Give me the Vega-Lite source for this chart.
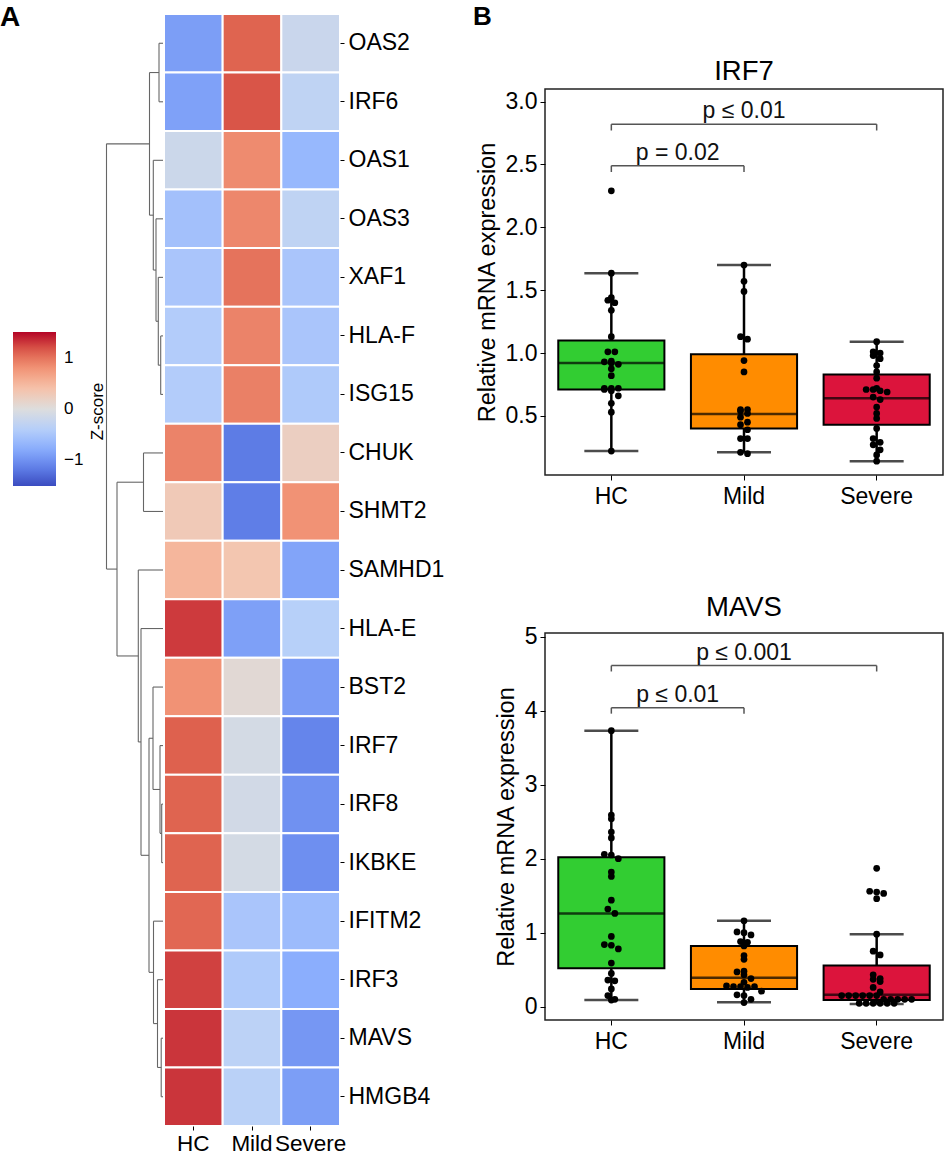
{
  "$schema": "https://vega.github.io/schema/vega-lite/v6.json",
  "padding": {"left": 0, "top": 3, "right": 0, "bottom": 0},
  "background": "white",
  "config": {
    "font": "Liberation Sans",
    "view": {"stroke": null},
    "axis": {"labelColor": "#000", "titleColor": "#000", "tickColor": "#000", "labelFont": "Liberation Sans", "titleFont": "Liberation Sans", "titleFontWeight": "normal", "grid": false, "domain": false},
    "title": {"color": "#000", "font": "Liberation Sans"},
    "legend": {"labelFont": "Liberation Sans", "titleFont": "Liberation Sans", "labelColor": "#000", "titleColor": "#000"}
  },
  "datasets": {
    "heat": [
      {"gene": "OAS2", "group": "HC", "z": -0.9}, {"gene": "OAS2", "group": "Mild", "z": 1.1}, {"gene": "OAS2", "group": "Severe", "z": -0.2},
      {"gene": "IRF6", "group": "HC", "z": -0.87}, {"gene": "IRF6", "group": "Mild", "z": 1.17}, {"gene": "IRF6", "group": "Severe", "z": -0.3},
      {"gene": "OAS1", "group": "HC", "z": -0.18}, {"gene": "OAS1", "group": "Mild", "z": 0.85}, {"gene": "OAS1", "group": "Severe", "z": -0.66},
      {"gene": "OAS3", "group": "HC", "z": -0.56}, {"gene": "OAS3", "group": "Mild", "z": 0.87}, {"gene": "OAS3", "group": "Severe", "z": -0.3},
      {"gene": "XAF1", "group": "HC", "z": -0.5}, {"gene": "XAF1", "group": "Mild", "z": 1.0}, {"gene": "XAF1", "group": "Severe", "z": -0.5},
      {"gene": "HLA-F", "group": "HC", "z": -0.42}, {"gene": "HLA-F", "group": "Mild", "z": 0.9}, {"gene": "HLA-F", "group": "Severe", "z": -0.5},
      {"gene": "ISG15", "group": "HC", "z": -0.42}, {"gene": "ISG15", "group": "Mild", "z": 0.92}, {"gene": "ISG15", "group": "Severe", "z": -0.45},
      {"gene": "CHUK", "group": "HC", "z": 0.9}, {"gene": "CHUK", "group": "Mild", "z": -1.17}, {"gene": "CHUK", "group": "Severe", "z": 0.22},
      {"gene": "SHMT2", "group": "HC", "z": 0.3}, {"gene": "SHMT2", "group": "Mild", "z": -1.15}, {"gene": "SHMT2", "group": "Severe", "z": 0.8},
      {"gene": "SAMHD1", "group": "HC", "z": 0.5}, {"gene": "SAMHD1", "group": "Mild", "z": 0.35}, {"gene": "SAMHD1", "group": "Severe", "z": -0.85},
      {"gene": "HLA-E", "group": "HC", "z": 1.28}, {"gene": "HLA-E", "group": "Mild", "z": -0.88}, {"gene": "HLA-E", "group": "Severe", "z": -0.38},
      {"gene": "BST2", "group": "HC", "z": 0.8}, {"gene": "BST2", "group": "Mild", "z": 0.07}, {"gene": "BST2", "group": "Severe", "z": -0.92},
      {"gene": "IRF7", "group": "HC", "z": 1.12}, {"gene": "IRF7", "group": "Mild", "z": -0.1}, {"gene": "IRF7", "group": "Severe", "z": -1.1},
      {"gene": "IRF8", "group": "HC", "z": 1.1}, {"gene": "IRF8", "group": "Mild", "z": -0.12}, {"gene": "IRF8", "group": "Severe", "z": -1.0},
      {"gene": "IKBKE", "group": "HC", "z": 1.1}, {"gene": "IKBKE", "group": "Mild", "z": -0.1}, {"gene": "IKBKE", "group": "Severe", "z": -1.02},
      {"gene": "IFITM2", "group": "HC", "z": 1.08}, {"gene": "IFITM2", "group": "Mild", "z": -0.5}, {"gene": "IFITM2", "group": "Severe", "z": -0.62},
      {"gene": "IRF3", "group": "HC", "z": 1.25}, {"gene": "IRF3", "group": "Mild", "z": -0.45}, {"gene": "IRF3", "group": "Severe", "z": -0.77},
      {"gene": "MAVS", "group": "HC", "z": 1.3}, {"gene": "MAVS", "group": "Mild", "z": -0.33}, {"gene": "MAVS", "group": "Severe", "z": -0.95},
      {"gene": "HMGB4", "group": "HC", "z": 1.3}, {"gene": "HMGB4", "group": "Mild", "z": -0.35}, {"gene": "HMGB4", "group": "Severe", "z": -0.9}
    ],
    "dendro": [
      {"d1": 0, "d2": 5, "p1": 0.5, "p2": 0.5}, {"d1": 5, "d2": 5, "p1": 0.5, "p2": 1.5}, {"d1": 0, "d2": 5, "p1": 1.5, "p2": 1.5},
      {"d1": 0, "d2": 3.3, "p1": 5.5, "p2": 5.5}, {"d1": 3.3, "d2": 3.3, "p1": 5.5, "p2": 6.5}, {"d1": 0, "d2": 3.3, "p1": 6.5, "p2": 6.5},
      {"d1": 0, "d2": 5.7, "p1": 4.5, "p2": 4.5}, {"d1": 5.7, "d2": 5.7, "p1": 4.5, "p2": 6.0}, {"d1": 3.3, "d2": 5.7, "p1": 6.0, "p2": 6.0},
      {"d1": 0, "d2": 8, "p1": 3.5, "p2": 3.5}, {"d1": 8, "d2": 8, "p1": 3.5, "p2": 5.25}, {"d1": 5.7, "d2": 8, "p1": 5.25, "p2": 5.25},
      {"d1": 0, "d2": 10.7, "p1": 2.5, "p2": 2.5}, {"d1": 10.7, "d2": 10.7, "p1": 2.5, "p2": 4.375}, {"d1": 8, "d2": 10.7, "p1": 4.375, "p2": 4.375},
      {"d1": 5, "d2": 14.5, "p1": 1.0, "p2": 1.0}, {"d1": 14.5, "d2": 14.5, "p1": 1.0, "p2": 3.4375}, {"d1": 10.7, "d2": 14.5, "p1": 3.4375, "p2": 3.4375},
      {"d1": 0, "d2": 20.5, "p1": 7.5, "p2": 7.5}, {"d1": 20.5, "d2": 20.5, "p1": 7.5, "p2": 8.5}, {"d1": 0, "d2": 20.5, "p1": 8.5, "p2": 8.5},
      {"d1": 0, "d2": 2.3, "p1": 13.5, "p2": 13.5}, {"d1": 2.3, "d2": 2.3, "p1": 13.5, "p2": 14.5}, {"d1": 0, "d2": 2.3, "p1": 14.5, "p2": 14.5},
      {"d1": 0, "d2": 4, "p1": 12.5, "p2": 12.5}, {"d1": 4, "d2": 4, "p1": 12.5, "p2": 14.0}, {"d1": 2.3, "d2": 4, "p1": 14.0, "p2": 14.0},
      {"d1": 0, "d2": 11, "p1": 11.5, "p2": 11.5}, {"d1": 11, "d2": 11, "p1": 11.5, "p2": 13.25}, {"d1": 4, "d2": 11, "p1": 13.25, "p2": 13.25},
      {"d1": 0, "d2": 2.8, "p1": 17.5, "p2": 17.5}, {"d1": 2.8, "d2": 2.8, "p1": 17.5, "p2": 18.5}, {"d1": 0, "d2": 2.8, "p1": 18.5, "p2": 18.5},
      {"d1": 0, "d2": 6.5, "p1": 16.5, "p2": 16.5}, {"d1": 6.5, "d2": 6.5, "p1": 16.5, "p2": 18.0}, {"d1": 2.8, "d2": 6.5, "p1": 18.0, "p2": 18.0},
      {"d1": 0, "d2": 10.5, "p1": 15.5, "p2": 15.5}, {"d1": 10.5, "d2": 10.5, "p1": 15.5, "p2": 17.25}, {"d1": 6.5, "d2": 10.5, "p1": 17.25, "p2": 17.25},
      {"d1": 11, "d2": 15, "p1": 12.375, "p2": 12.375}, {"d1": 15, "d2": 15, "p1": 12.375, "p2": 16.375}, {"d1": 10.5, "d2": 15, "p1": 16.375, "p2": 16.375},
      {"d1": 0, "d2": 23, "p1": 10.5, "p2": 10.5}, {"d1": 23, "d2": 23, "p1": 10.5, "p2": 14.375}, {"d1": 15, "d2": 23, "p1": 14.375, "p2": 14.375},
      {"d1": 0, "d2": 25.7, "p1": 9.5, "p2": 9.5}, {"d1": 25.7, "d2": 25.7, "p1": 9.5, "p2": 12.4375}, {"d1": 23, "d2": 25.7, "p1": 12.4375, "p2": 12.4375},
      {"d1": 20.5, "d2": 47, "p1": 8.0, "p2": 8.0}, {"d1": 47, "d2": 47, "p1": 8.0, "p2": 10.96875}, {"d1": 25.7, "d2": 47, "p1": 10.96875, "p2": 10.96875},
      {"d1": 14.5, "d2": 57.5, "p1": 2.21875, "p2": 2.21875}, {"d1": 57.5, "d2": 57.5, "p1": 2.21875, "p2": 9.484375}, {"d1": 47, "d2": 57.5, "p1": 9.484375, "p2": 9.484375}
    ],
    "box": [
      {"gene": "IRF7", "group": "HC", "lo": 0.22, "q1": 0.71, "med": 0.92, "q3": 1.10, "hi": 1.635},
      {"gene": "IRF7", "group": "Mild", "lo": 0.21, "q1": 0.40, "med": 0.515, "q3": 0.99, "hi": 1.70},
      {"gene": "IRF7", "group": "Severe", "lo": 0.14, "q1": 0.43, "med": 0.64, "q3": 0.83, "hi": 1.09},
      {"gene": "MAVS", "group": "HC", "lo": 0.09, "q1": 0.52, "med": 1.26, "q3": 2.02, "hi": 3.73},
      {"gene": "MAVS", "group": "Mild", "lo": 0.06, "q1": 0.24, "med": 0.39, "q3": 0.82, "hi": 1.16},
      {"gene": "MAVS", "group": "Severe", "lo": 0.035, "q1": 0.09, "med": 0.16, "q3": 0.555, "hi": 0.98}
    ],
    "points": [
      {"gene": "IRF7", "group": "HC", "value": 2.29}, {"gene": "IRF7", "group": "HC", "value": 1.635}, {"gene": "IRF7", "group": "HC", "value": 1.44}, {"gene": "IRF7", "group": "HC", "value": 1.42}, {"gene": "IRF7", "group": "HC", "value": 1.40}, {"gene": "IRF7", "group": "HC", "value": 1.34}, {"gene": "IRF7", "group": "HC", "value": 1.13}, {"gene": "IRF7", "group": "HC", "value": 1.01}, {"gene": "IRF7", "group": "HC", "value": 1.01}, {"gene": "IRF7", "group": "HC", "value": 0.935}, {"gene": "IRF7", "group": "HC", "value": 0.93}, {"gene": "IRF7", "group": "HC", "value": 0.92}, {"gene": "IRF7", "group": "HC", "value": 0.91}, {"gene": "IRF7", "group": "HC", "value": 0.875}, {"gene": "IRF7", "group": "HC", "value": 0.82}, {"gene": "IRF7", "group": "HC", "value": 0.72}, {"gene": "IRF7", "group": "HC", "value": 0.72}, {"gene": "IRF7", "group": "HC", "value": 0.72}, {"gene": "IRF7", "group": "HC", "value": 0.71}, {"gene": "IRF7", "group": "HC", "value": 0.70}, {"gene": "IRF7", "group": "HC", "value": 0.66}, {"gene": "IRF7", "group": "HC", "value": 0.60}, {"gene": "IRF7", "group": "HC", "value": 0.53}, {"gene": "IRF7", "group": "HC", "value": 0.22},
      {"gene": "IRF7", "group": "Mild", "value": 1.70}, {"gene": "IRF7", "group": "Mild", "value": 1.57}, {"gene": "IRF7", "group": "Mild", "value": 1.49}, {"gene": "IRF7", "group": "Mild", "value": 1.13}, {"gene": "IRF7", "group": "Mild", "value": 1.11}, {"gene": "IRF7", "group": "Mild", "value": 0.94}, {"gene": "IRF7", "group": "Mild", "value": 0.85}, {"gene": "IRF7", "group": "Mild", "value": 0.55}, {"gene": "IRF7", "group": "Mild", "value": 0.55}, {"gene": "IRF7", "group": "Mild", "value": 0.54}, {"gene": "IRF7", "group": "Mild", "value": 0.52}, {"gene": "IRF7", "group": "Mild", "value": 0.49}, {"gene": "IRF7", "group": "Mild", "value": 0.45}, {"gene": "IRF7", "group": "Mild", "value": 0.43}, {"gene": "IRF7", "group": "Mild", "value": 0.39}, {"gene": "IRF7", "group": "Mild", "value": 0.32}, {"gene": "IRF7", "group": "Mild", "value": 0.32}, {"gene": "IRF7", "group": "Mild", "value": 0.21}, {"gene": "IRF7", "group": "Mild", "value": 0.20},
      {"gene": "IRF7", "group": "Severe", "value": 1.09}, {"gene": "IRF7", "group": "Severe", "value": 1.01}, {"gene": "IRF7", "group": "Severe", "value": 1.00}, {"gene": "IRF7", "group": "Severe", "value": 0.98}, {"gene": "IRF7", "group": "Severe", "value": 0.955}, {"gene": "IRF7", "group": "Severe", "value": 0.90}, {"gene": "IRF7", "group": "Severe", "value": 0.85}, {"gene": "IRF7", "group": "Severe", "value": 0.80}, {"gene": "IRF7", "group": "Severe", "value": 0.72}, {"gene": "IRF7", "group": "Severe", "value": 0.71}, {"gene": "IRF7", "group": "Severe", "value": 0.71}, {"gene": "IRF7", "group": "Severe", "value": 0.70}, {"gene": "IRF7", "group": "Severe", "value": 0.69}, {"gene": "IRF7", "group": "Severe", "value": 0.65}, {"gene": "IRF7", "group": "Severe", "value": 0.63}, {"gene": "IRF7", "group": "Severe", "value": 0.57}, {"gene": "IRF7", "group": "Severe", "value": 0.52}, {"gene": "IRF7", "group": "Severe", "value": 0.48}, {"gene": "IRF7", "group": "Severe", "value": 0.40}, {"gene": "IRF7", "group": "Severe", "value": 0.32}, {"gene": "IRF7", "group": "Severe", "value": 0.29}, {"gene": "IRF7", "group": "Severe", "value": 0.27}, {"gene": "IRF7", "group": "Severe", "value": 0.23}, {"gene": "IRF7", "group": "Severe", "value": 0.19}, {"gene": "IRF7", "group": "Severe", "value": 0.14},
      {"gene": "MAVS", "group": "HC", "value": 3.73}, {"gene": "MAVS", "group": "HC", "value": 2.59}, {"gene": "MAVS", "group": "HC", "value": 2.54}, {"gene": "MAVS", "group": "HC", "value": 2.36}, {"gene": "MAVS", "group": "HC", "value": 2.28}, {"gene": "MAVS", "group": "HC", "value": 2.06}, {"gene": "MAVS", "group": "HC", "value": 2.05}, {"gene": "MAVS", "group": "HC", "value": 2.00}, {"gene": "MAVS", "group": "HC", "value": 1.82}, {"gene": "MAVS", "group": "HC", "value": 1.76}, {"gene": "MAVS", "group": "HC", "value": 1.44}, {"gene": "MAVS", "group": "HC", "value": 1.32}, {"gene": "MAVS", "group": "HC", "value": 1.26}, {"gene": "MAVS", "group": "HC", "value": 0.95}, {"gene": "MAVS", "group": "HC", "value": 0.84}, {"gene": "MAVS", "group": "HC", "value": 0.83}, {"gene": "MAVS", "group": "HC", "value": 0.78}, {"gene": "MAVS", "group": "HC", "value": 0.59}, {"gene": "MAVS", "group": "HC", "value": 0.45}, {"gene": "MAVS", "group": "HC", "value": 0.36}, {"gene": "MAVS", "group": "HC", "value": 0.35}, {"gene": "MAVS", "group": "HC", "value": 0.24}, {"gene": "MAVS", "group": "HC", "value": 0.15}, {"gene": "MAVS", "group": "HC", "value": 0.10}, {"gene": "MAVS", "group": "HC", "value": 0.09},
      {"gene": "MAVS", "group": "Mild", "value": 1.16}, {"gene": "MAVS", "group": "Mild", "value": 1.01}, {"gene": "MAVS", "group": "Mild", "value": 1.00}, {"gene": "MAVS", "group": "Mild", "value": 0.97}, {"gene": "MAVS", "group": "Mild", "value": 0.88}, {"gene": "MAVS", "group": "Mild", "value": 0.87}, {"gene": "MAVS", "group": "Mild", "value": 0.82}, {"gene": "MAVS", "group": "Mild", "value": 0.69}, {"gene": "MAVS", "group": "Mild", "value": 0.64}, {"gene": "MAVS", "group": "Mild", "value": 0.48}, {"gene": "MAVS", "group": "Mild", "value": 0.47}, {"gene": "MAVS", "group": "Mild", "value": 0.43}, {"gene": "MAVS", "group": "Mild", "value": 0.38}, {"gene": "MAVS", "group": "Mild", "value": 0.33}, {"gene": "MAVS", "group": "Mild", "value": 0.28}, {"gene": "MAVS", "group": "Mild", "value": 0.27}, {"gene": "MAVS", "group": "Mild", "value": 0.27}, {"gene": "MAVS", "group": "Mild", "value": 0.26}, {"gene": "MAVS", "group": "Mild", "value": 0.27}, {"gene": "MAVS", "group": "Mild", "value": 0.21}, {"gene": "MAVS", "group": "Mild", "value": 0.16}, {"gene": "MAVS", "group": "Mild", "value": 0.15}, {"gene": "MAVS", "group": "Mild", "value": 0.10}, {"gene": "MAVS", "group": "Mild", "value": 0.055},
      {"gene": "MAVS", "group": "Severe", "value": 1.87}, {"gene": "MAVS", "group": "Severe", "value": 1.56}, {"gene": "MAVS", "group": "Severe", "value": 1.55}, {"gene": "MAVS", "group": "Severe", "value": 1.53}, {"gene": "MAVS", "group": "Severe", "value": 1.46}, {"gene": "MAVS", "group": "Severe", "value": 0.98}, {"gene": "MAVS", "group": "Severe", "value": 0.75}, {"gene": "MAVS", "group": "Severe", "value": 0.70}, {"gene": "MAVS", "group": "Severe", "value": 0.43}, {"gene": "MAVS", "group": "Severe", "value": 0.38}, {"gene": "MAVS", "group": "Severe", "value": 0.37}, {"gene": "MAVS", "group": "Severe", "value": 0.34}, {"gene": "MAVS", "group": "Severe", "value": 0.26}, {"gene": "MAVS", "group": "Severe", "value": 0.20}, {"gene": "MAVS", "group": "Severe", "value": 0.15}, {"gene": "MAVS", "group": "Severe", "value": 0.15}, {"gene": "MAVS", "group": "Severe", "value": 0.15}, {"gene": "MAVS", "group": "Severe", "value": 0.15}, {"gene": "MAVS", "group": "Severe", "value": 0.15}, {"gene": "MAVS", "group": "Severe", "value": 0.15}, {"gene": "MAVS", "group": "Severe", "value": 0.10}, {"gene": "MAVS", "group": "Severe", "value": 0.10}, {"gene": "MAVS", "group": "Severe", "value": 0.10}, {"gene": "MAVS", "group": "Severe", "value": 0.10}, {"gene": "MAVS", "group": "Severe", "value": 0.10}, {"gene": "MAVS", "group": "Severe", "value": 0.045}, {"gene": "MAVS", "group": "Severe", "value": 0.045}, {"gene": "MAVS", "group": "Severe", "value": 0.045}, {"gene": "MAVS", "group": "Severe", "value": 0.045}, {"gene": "MAVS", "group": "Severe", "value": 0.045}, {"gene": "MAVS", "group": "Severe", "value": 0.045}
    ],
    "sig": [
      {"gene": "IRF7", "from": "HC", "to": "Mild", "at": "Mild", "span": "short", "y": 2.49, "tip": 2.44, "label": "p = 0.02"},
      {"gene": "IRF7", "from": "HC", "to": "Severe", "at": "Mild", "span": "long", "y": 2.82, "tip": 2.77, "label": "p ≤ 0.01"},
      {"gene": "MAVS", "from": "HC", "to": "Mild", "at": "Mild", "span": "short", "y": 4.04, "tip": 3.96, "label": "p ≤ 0.01"},
      {"gene": "MAVS", "from": "HC", "to": "Severe", "at": "Mild", "span": "long", "y": 4.61, "tip": 4.53, "label": "p ≤ 0.001"}
    ]
  },
  "resolve": {"scale": {"x": "independent", "y": "independent", "color": "independent"}, "legend": {"color": "independent"}},
  "spacing": 29,
  "hconcat": [
    {
      "title": {"text": "A", "anchor": "start", "fontSize": 28, "fontWeight": "bold", "offset": -19, "dx": -13},
      "bounds": "flush",
      "spacing": 0,
      "resolve": {"scale": {"x": "independent", "y": "independent", "color": "independent"}},
      "hconcat": [
        {
          "width": 58, "height": 1112,
          "data": {"name": "dendro"},
          "mark": {"type": "rule", "color": "#666", "strokeWidth": 1.1},
          "encoding": {
            "x": {"field": "d1", "type": "quantitative", "scale": {"domain": [0, 58], "reverse": true, "nice": false, "zero": false}, "axis": null},
            "x2": {"field": "d2"},
            "y": {"field": "p1", "type": "quantitative", "scale": {"domain": [0, 19], "reverse": true, "nice": false, "zero": false},
                  "axis": {"orient": "left", "title": "Z-score", "labels": false, "ticks": false, "domain": false, "grid": false,
                           "titleX": -9, "titleY": 397, "titleAngle": 270, "titleAlign": "center", "titleBaseline": "middle", "titleFontSize": 17}},
            "y2": {"field": "p2"}
          }
        },
        {
          "width": 176, "height": 1112,
          "data": {"name": "heat"},
          "mark": {"type": "rect", "stroke": "white", "strokeWidth": 2},
          "encoding": {
            "x": {"field": "group", "type": "nominal", "sort": ["HC", "Mild", "Severe"], "scale": {"paddingInner": 0, "paddingOuter": 0},
                  "axis": {"title": null, "labelAngle": 0, "labelFontSize": 22.5, "tickSize": 4, "labelPadding": 2, "orient": "bottom"}},
            "y": {"field": "gene", "type": "nominal",
                  "sort": ["OAS2", "IRF6", "OAS1", "OAS3", "XAF1", "HLA-F", "ISG15", "CHUK", "SHMT2", "SAMHD1", "HLA-E", "BST2", "IRF7", "IRF8", "IKBKE", "IFITM2", "IRF3", "MAVS", "HMGB4"],
                  "scale": {"paddingInner": 0, "paddingOuter": 0},
                  "axis": {"title": null, "orient": "right", "labelFontSize": 23, "tickSize": 4, "labelPadding": 4}},
            "color": {"field": "z", "type": "quantitative",
                      "scale": {"domain": [-1.5, 1.5], "interpolate": "rgb", "range": ["#3b4cc0", "#6282ea", "#8db0fe", "#b8d0f9", "#dddddd", "#f5c4ad", "#f49a7b", "#de604d", "#b40426"]},
                      "legend": {"title": null, "orient": "none", "legendX": -151, "legendY": 318, "direction": "vertical",
                                 "gradientLength": 154, "gradientThickness": 43, "gradientStrokeWidth": 0,
                                 "values": [-1, 0, 1], "labelFontSize": 17, "labelOffset": 8,
                                 "labelExpr": "datum.value < 0 ? '−' + abs(datum.value) : datum.label"}}
          }
        }
      ]
    },
    {
      "bounds": "flush",
      "spacing": 74,
      "resolve": {"scale": {"x": "independent", "y": "independent", "color": "independent"}},
      "vconcat": [
        {
          "width": 398, "height": 1,
          "title": {"text": "B", "anchor": "start", "fontSize": 26, "fontWeight": "bold", "offset": -18, "dx": -72},
          "data": {"values": [{"k": 1}]},
          "mark": {"type": "point", "opacity": 0},
          "encoding": {}
        },
        {
          "bounds": "flush",
          "spacing": 158,
          "resolve": {"scale": {"x": "independent", "y": "independent", "color": "independent"}},
          "vconcat": [
            {
              "width": 398, "height": 386,
              "view": {"stroke": "#222", "strokeWidth": 1.5},
              "title": {"text": "IRF7", "fontSize": 27.5, "fontWeight": "normal", "offset": 4},
              "layer": [
                {
                  "data": {"name": "box"}, "transform": [{"filter": "datum.gene === 'IRF7'"}],
                  "mark": {"type": "rule", "color": "black", "strokeWidth": 2.5},
                  "encoding": {
                    "x": {"field": "group", "type": "nominal", "scale": {"domain": ["HC", "Mild", "Severe"], "paddingInner": 0, "paddingOuter": 0},
                          "axis": {"title": null, "labelAngle": 0, "labelFontSize": 23, "tickSize": 5, "labelPadding": 5}},
                    "y": {"field": "lo", "type": "quantitative", "title": "Relative mRNA expression", "scale": {"domain": [0.03, 3.1], "nice": false, "zero": false},
                          "axis": {"values": [0.5, 1, 1.5, 2, 2.5, 3], "format": ".1f", "labelFontSize": 23, "titleFontSize": 23.5, "tickSize": 5, "labelPadding": 3, "titlePadding": 6}},
                    "y2": {"field": "hi"}
                  }
                },
                {
                  "data": {"name": "box"}, "transform": [{"filter": "datum.gene === 'IRF7'"}],
                  "mark": {"type": "tick", "orient": "horizontal", "size": 54, "thickness": 2.5, "color": "black"},
                  "encoding": {"x": {"field": "group", "type": "nominal"}, "y": {"field": "lo", "type": "quantitative", "title": "Relative mRNA expression"}}
                },
                {
                  "data": {"name": "box"}, "transform": [{"filter": "datum.gene === 'IRF7'"}],
                  "mark": {"type": "tick", "orient": "horizontal", "size": 54, "thickness": 2.5, "color": "black"},
                  "encoding": {"x": {"field": "group", "type": "nominal"}, "y": {"field": "hi", "type": "quantitative", "title": "Relative mRNA expression"}}
                },
                {
                  "data": {"name": "box"}, "transform": [{"filter": "datum.gene === 'IRF7'"}],
                  "mark": {"type": "bar", "width": {"band": 0.8}, "stroke": "black", "strokeWidth": 2, "opacity": 1},
                  "encoding": {
                    "x": {"field": "group", "type": "nominal"},
                    "y": {"field": "q1", "type": "quantitative", "title": "Relative mRNA expression"}, "y2": {"field": "q3"},
                    "color": {"field": "group", "type": "nominal", "scale": {"domain": ["HC", "Mild", "Severe"], "range": ["#32cd32", "#ff8c00", "#dc143c"]}, "legend": null}
                  }
                },
                {
                  "data": {"name": "box"}, "transform": [{"filter": "datum.gene === 'IRF7'"}],
                  "mark": {"type": "tick", "orient": "horizontal", "size": 106, "thickness": 2.5, "color": "black"},
                  "encoding": {"x": {"field": "group", "type": "nominal"}, "y": {"field": "med", "type": "quantitative", "title": "Relative mRNA expression"}}
                },
                {
                  "data": {"name": "points"},
                  "transform": [
                    {"filter": "datum.gene === 'IRF7'"},
                    {"calculate": "floor(datum.value / 0.055)", "as": "bin"},
                    {"window": [{"op": "row_number", "as": "rank"}, {"op": "count", "as": "n"}], "groupby": ["group", "bin"], "frame": [null, null]},
                    {"calculate": "datum.rank - (datum.n + 1) / 2", "as": "slot"}
                  ],
                  "mark": {"type": "circle", "size": 45, "color": "black", "opacity": 1, "xOffset": {"expr": "datum.slot * 7"}},
                  "encoding": {
                    "x": {"field": "group", "type": "nominal"},
                    "y": {"field": "value", "type": "quantitative", "title": "Relative mRNA expression"}
                  }
                },
                {
                  "data": {"name": "sig"}, "transform": [{"filter": "datum.gene === 'IRF7'"}],
                  "mark": {"type": "rule", "color": "#555", "strokeWidth": 1.5},
                  "encoding": {"x": {"field": "from", "type": "nominal", "bandPosition": 0.5}, "x2": {"field": "to", "bandPosition": 0.5}, "y": {"field": "y", "type": "quantitative", "title": "Relative mRNA expression"}}
                },
                {
                  "data": {"name": "sig"}, "transform": [{"filter": "datum.gene === 'IRF7'"}],
                  "mark": {"type": "rule", "color": "#555", "strokeWidth": 1.5},
                  "encoding": {"x": {"field": "from", "type": "nominal", "bandPosition": 0.5}, "y": {"field": "y", "type": "quantitative", "title": "Relative mRNA expression"}, "y2": {"field": "tip"}}
                },
                {
                  "data": {"name": "sig"}, "transform": [{"filter": "datum.gene === 'IRF7'"}],
                  "mark": {"type": "rule", "color": "#555", "strokeWidth": 1.5},
                  "encoding": {"x": {"field": "to", "type": "nominal", "bandPosition": 0.5}, "y": {"field": "y", "type": "quantitative", "title": "Relative mRNA expression"}, "y2": {"field": "tip"}}
                },
                {
                  "data": {"name": "sig"}, "transform": [{"filter": "datum.gene === 'IRF7' && datum.span === 'short'"}],
                  "mark": {"type": "text", "fontSize": 23, "dy": -6, "baseline": "alphabetic", "align": "center", "color": "#111"},
                  "encoding": {"x": {"field": "at", "type": "nominal", "bandPosition": 0}, "y": {"field": "y", "type": "quantitative", "title": "Relative mRNA expression"}, "text": {"field": "label"}}
                },
                {
                  "data": {"name": "sig"}, "transform": [{"filter": "datum.gene === 'IRF7' && datum.span === 'long'"}],
                  "mark": {"type": "text", "fontSize": 23, "dy": -6, "baseline": "alphabetic", "align": "center", "color": "#111"},
                  "encoding": {"x": {"field": "at", "type": "nominal", "bandPosition": 0.5}, "y": {"field": "y", "type": "quantitative", "title": "Relative mRNA expression"}, "text": {"field": "label"}}
                }
              ]
            },
            {
              "width": 398, "height": 387,
              "view": {"stroke": "#222", "strokeWidth": 1.5},
              "title": {"text": "MAVS", "fontSize": 27.5, "fontWeight": "normal", "offset": 4},
              "layer": [
                {
                  "data": {"name": "box"}, "transform": [{"filter": "datum.gene === 'MAVS'"}],
                  "mark": {"type": "rule", "color": "black", "strokeWidth": 2.5},
                  "encoding": {
                    "x": {"field": "group", "type": "nominal", "scale": {"domain": ["HC", "Mild", "Severe"], "paddingInner": 0, "paddingOuter": 0},
                          "axis": {"title": null, "labelAngle": 0, "labelFontSize": 23, "tickSize": 5, "labelPadding": 5}},
                    "y": {"field": "lo", "type": "quantitative", "title": "Relative mRNA expression", "scale": {"domain": [-0.18, 5.05], "nice": false, "zero": false},
                          "axis": {"values": [0, 1, 2, 3, 4, 5], "format": "d", "labelFontSize": 23, "titleFontSize": 23.5, "tickSize": 5, "labelPadding": 3, "titlePadding": 6}},
                    "y2": {"field": "hi"}
                  }
                },
                {
                  "data": {"name": "box"}, "transform": [{"filter": "datum.gene === 'MAVS'"}],
                  "mark": {"type": "tick", "orient": "horizontal", "size": 54, "thickness": 2.5, "color": "black"},
                  "encoding": {"x": {"field": "group", "type": "nominal"}, "y": {"field": "lo", "type": "quantitative", "title": "Relative mRNA expression"}}
                },
                {
                  "data": {"name": "box"}, "transform": [{"filter": "datum.gene === 'MAVS'"}],
                  "mark": {"type": "tick", "orient": "horizontal", "size": 54, "thickness": 2.5, "color": "black"},
                  "encoding": {"x": {"field": "group", "type": "nominal"}, "y": {"field": "hi", "type": "quantitative", "title": "Relative mRNA expression"}}
                },
                {
                  "data": {"name": "box"}, "transform": [{"filter": "datum.gene === 'MAVS'"}],
                  "mark": {"type": "bar", "width": {"band": 0.8}, "stroke": "black", "strokeWidth": 2, "opacity": 1},
                  "encoding": {
                    "x": {"field": "group", "type": "nominal"},
                    "y": {"field": "q1", "type": "quantitative", "title": "Relative mRNA expression"}, "y2": {"field": "q3"},
                    "color": {"field": "group", "type": "nominal", "scale": {"domain": ["HC", "Mild", "Severe"], "range": ["#32cd32", "#ff8c00", "#dc143c"]}, "legend": null}
                  }
                },
                {
                  "data": {"name": "box"}, "transform": [{"filter": "datum.gene === 'MAVS'"}],
                  "mark": {"type": "tick", "orient": "horizontal", "size": 106, "thickness": 2.5, "color": "black"},
                  "encoding": {"x": {"field": "group", "type": "nominal"}, "y": {"field": "med", "type": "quantitative", "title": "Relative mRNA expression"}}
                },
                {
                  "data": {"name": "points"},
                  "transform": [
                    {"filter": "datum.gene === 'MAVS'"},
                    {"calculate": "floor(datum.value / 0.095)", "as": "bin"},
                    {"window": [{"op": "row_number", "as": "rank"}, {"op": "count", "as": "n"}], "groupby": ["group", "bin"], "frame": [null, null]},
                    {"calculate": "datum.rank - (datum.n + 1) / 2", "as": "slot"}
                  ],
                  "mark": {"type": "circle", "size": 45, "color": "black", "opacity": 1, "xOffset": {"expr": "datum.slot * 7"}},
                  "encoding": {
                    "x": {"field": "group", "type": "nominal"},
                    "y": {"field": "value", "type": "quantitative", "title": "Relative mRNA expression"}
                  }
                },
                {
                  "data": {"name": "sig"}, "transform": [{"filter": "datum.gene === 'MAVS'"}],
                  "mark": {"type": "rule", "color": "#555", "strokeWidth": 1.5},
                  "encoding": {"x": {"field": "from", "type": "nominal", "bandPosition": 0.5}, "x2": {"field": "to", "bandPosition": 0.5}, "y": {"field": "y", "type": "quantitative", "title": "Relative mRNA expression"}}
                },
                {
                  "data": {"name": "sig"}, "transform": [{"filter": "datum.gene === 'MAVS'"}],
                  "mark": {"type": "rule", "color": "#555", "strokeWidth": 1.5},
                  "encoding": {"x": {"field": "from", "type": "nominal", "bandPosition": 0.5}, "y": {"field": "y", "type": "quantitative", "title": "Relative mRNA expression"}, "y2": {"field": "tip"}}
                },
                {
                  "data": {"name": "sig"}, "transform": [{"filter": "datum.gene === 'MAVS'"}],
                  "mark": {"type": "rule", "color": "#555", "strokeWidth": 1.5},
                  "encoding": {"x": {"field": "to", "type": "nominal", "bandPosition": 0.5}, "y": {"field": "y", "type": "quantitative", "title": "Relative mRNA expression"}, "y2": {"field": "tip"}}
                },
                {
                  "data": {"name": "sig"}, "transform": [{"filter": "datum.gene === 'MAVS' && datum.span === 'short'"}],
                  "mark": {"type": "text", "fontSize": 23, "dy": -6, "baseline": "alphabetic", "align": "center", "color": "#111"},
                  "encoding": {"x": {"field": "at", "type": "nominal", "bandPosition": 0}, "y": {"field": "y", "type": "quantitative", "title": "Relative mRNA expression"}, "text": {"field": "label"}}
                },
                {
                  "data": {"name": "sig"}, "transform": [{"filter": "datum.gene === 'MAVS' && datum.span === 'long'"}],
                  "mark": {"type": "text", "fontSize": 23, "dy": -6, "baseline": "alphabetic", "align": "center", "color": "#111"},
                  "encoding": {"x": {"field": "at", "type": "nominal", "bandPosition": 0.5}, "y": {"field": "y", "type": "quantitative", "title": "Relative mRNA expression"}, "text": {"field": "label"}}
                }
              ]
            }
          ]
        }
      ]
    }
  ]
}
